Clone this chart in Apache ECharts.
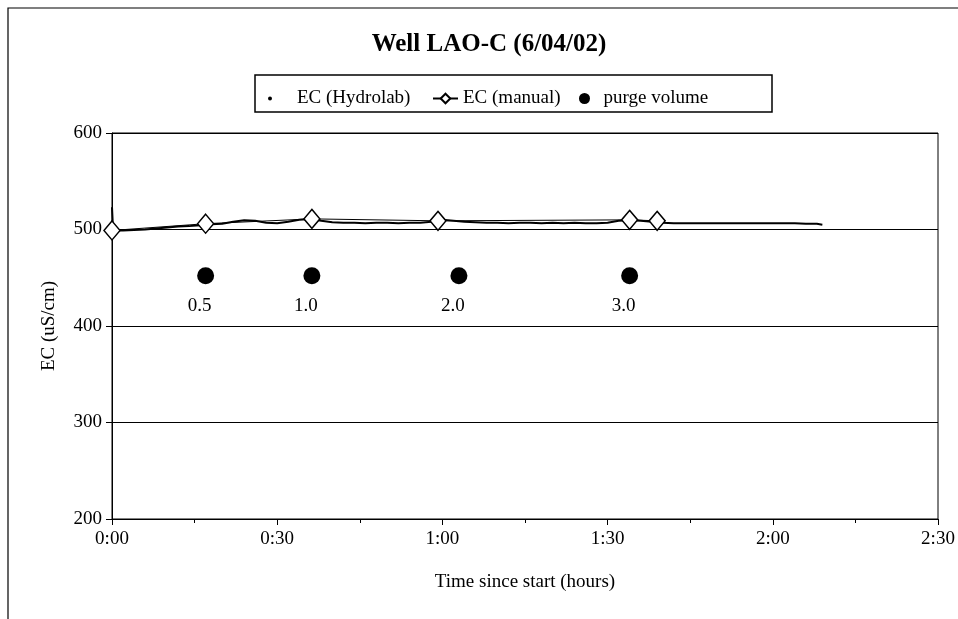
<!DOCTYPE html>
<html>
<head>
<meta charset="utf-8">
<title>Well LAO-C</title>
<script src="https://cdn.jsdelivr.net/npm/echarts@6/dist/echarts.min.js"></script>
<style>
  html, body { margin: 0; padding: 0; background: #fff; }
  #chart { width: 958px; height: 619px; }
</style>
</head>
<body>
<div id="chart"></div>
<script>
// time in minutes since start
var hydroTimes = [0, 0.2, 2, 4, 6, 8, 10, 12, 14, 16, 18, 20, 22, 24, 26, 28, 30, 32, 34, 36, 38, 40,
    42, 44, 46, 48, 50, 52, 54, 56, 58, 60, 62, 64, 66, 68, 70, 72, 74, 76, 78, 80, 82, 84, 86, 88,
    90, 92, 94, 96, 98, 100, 102, 104, 106, 108, 110, 112, 114, 116, 118, 120, 122, 124, 126, 128, 129];
var hydroValues = [523, 499, 499, 499.5, 500, 501, 502, 503, 503.5, 504.5, 505.5, 506, 508, 509.5, 509, 507, 506.5, 508, 510, 511, 509, 507.5,
    507, 507, 506.5, 507, 507, 506.5, 507, 507, 508, 510, 509, 508, 507.5, 507, 507, 506.5, 507, 507, 506.5, 507, 506.5, 507, 506.5, 506.5,
    507, 509, 509.5, 509, 508, 507, 506.5, 506.5, 506.5, 506.5, 506.5, 506.5, 506.5, 506.5, 506.5, 506.5, 506.5, 506.5, 506, 506, 505];

var manualTimes = [0, 17, 36.3, 59.2, 94, 99];
var manualValues = [499, 506, 511, 509, 510, 509];

var purgeTimes = [17, 36.3, 63, 94];
var purgeValues = [452, 452, 452, 452];
var purgeLabels = ['0.5', '1.0', '2.0', '3.0'];

var yTicks = [200, 300, 400, 500, 600];
var xTickLabels = ['0:00', '0:30', '1:00', '1:30', '2:00', '2:30'];

var FONT = '"Liberation Serif", "Times New Roman", serif';
var FS = 19;

function zip(a, b) {
    var out = [];
    for (var i = 0; i < a.length; i++) out.push([a[i], b[i]]);
    return out;
}

var chart = echarts.init(document.getElementById('chart'));

var legendText = { fontFamily: FONT, fontSize: FS, color: '#000' };

var option = {
    backgroundColor: '#fff',
    animation: false,
    textStyle: { fontFamily: FONT, color: '#000' },
    grid: {
        left: 112, right: 20, top: 133, bottom: 100,
        show: true, borderColor: '#000', borderWidth: 1
    },
    legend: [{
        data: [{ name: 'EC (Hydrolab)', icon: 'circle' }],
        left: 263, top: 84, itemWidth: 44, itemHeight: 4,
        textStyle: legendText
    }, {
        data: ['EC (manual)'],
        left: 427, top: 84, itemWidth: 25, itemHeight: 12,
        textStyle: legendText
    }, {
        data: [{ name: 'purge volume', icon: 'circle' }],
        left: 574, top: 84, itemWidth: 28, itemHeight: 11,
        textStyle: legendText
    }],
    xAxis: {
        type: 'value', min: 0, max: 150, interval: 30,
        name: 'Time since start (hours)', nameLocation: 'middle', nameGap: 54,
        nameTextStyle: { fontFamily: FONT, fontSize: FS, color: '#000' },
        axisLine: { lineStyle: { color: '#000', width: 1 } },
        axisTick: { show: true, length: 6, lineStyle: { color: '#000' } },
        minorTick: { show: true, splitNumber: 2, length: 4, lineStyle: { color: '#000' } },
        splitLine: { show: false },
        axisLabel: {
            margin: 11, fontFamily: FONT, fontSize: FS, color: '#000',
            formatter: function (v) { return xTickLabels[Math.round(v / 30)]; }
        }
    },
    yAxis: {
        type: 'value', min: yTicks[0], max: yTicks[yTicks.length - 1], interval: 100,
        name: 'EC (uS/cm)', nameLocation: 'middle', nameGap: 53,
        nameTextStyle: { fontFamily: FONT, fontSize: FS, color: '#000' },
        axisLine: { show: true, lineStyle: { color: '#000', width: 1 } },
        axisTick: { show: true, length: 6, lineStyle: { color: '#000' } },
        splitLine: { show: true, lineStyle: { color: '#000', width: 1 } },
        axisLabel: { margin: 10, fontFamily: FONT, fontSize: FS, color: '#000' }
    },
    graphic: [{
        type: 'text', x: 489, y: 45,
        style: {
            text: 'Well LAO-C (6/04/02)', font: 'bold 25px ' + FONT, fill: '#000',
            textAlign: 'center', textVerticalAlign: 'middle'
        }
    }, {
        type: 'rect', shape: { x: 255, y: 75, width: 517, height: 37 },
        style: { fill: 'none', stroke: '#000', lineWidth: 1.5 }, z: -1
    }, {
        type: 'polyline', shape: { points: [[8, 640], [8, 8], [958, 8]] },
        style: { fill: 'none', stroke: '#000', lineWidth: 1.2 }
    }],
    series: [{
        name: 'EC (Hydrolab)', type: 'line',
        data: zip(hydroTimes, hydroValues),
        symbol: 'none', z: 2,
        itemStyle: { color: '#000' },
        lineStyle: { color: '#000', width: 2 }
    }, {
        name: 'EC (manual)', type: 'line',
        data: zip(manualTimes, manualValues),
        symbol: 'diamond', symbolSize: [16, 19], z: 3,
        itemStyle: { color: '#fff', borderColor: '#000', borderWidth: 1.5 },
        lineStyle: { color: '#000', width: 1 }
    }, {
        name: 'purge volume', type: 'scatter',
        data: zip(purgeTimes, purgeValues),
        symbolSize: 17, z: 3,
        itemStyle: { color: '#000', opacity: 1 },
        label: {
            show: true, position: 'bottom', distance: 12, offset: [-6, 0],
            fontFamily: FONT, fontSize: FS, color: '#000',
            formatter: function (p) { return purgeLabels[p.dataIndex]; }
        }
    }]
};

chart.setOption(option);
</script>
</body>
</html>
